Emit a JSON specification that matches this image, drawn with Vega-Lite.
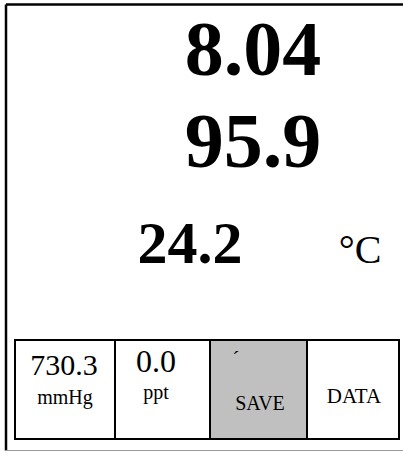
{
  "$schema": "https://vega.github.io/schema/vega-lite/v6.json",
  "width": 403,
  "height": 452,
  "padding": 0,
  "autosize": {"type": "none"},
  "background": "white",
  "config": {"view": {"stroke": null}},
  "datasets": {
    "frame": [
      {"x": 6, "x2": 410, "y": 4.5, "y2": 4.5, "c": "black", "w": 2.5},
      {"x": 6, "x2": 6, "y": 4.5, "y2": 450.5, "c": "black", "w": 2.5},
      {"x": 6, "x2": 410, "y": 450.5, "y2": 450.5, "c": "#999999", "w": 1.2}
    ],
    "buttons": [
      {"x": 15, "x2": 115, "y": 340, "y2": 439, "fill": "white"},
      {"x": 115, "x2": 210, "y": 340, "y2": 439, "fill": "white"},
      {"x": 210, "x2": 307, "y": 340, "y2": 439, "fill": "#c0c0c0"},
      {"x": 307, "x2": 399, "y": 340, "y2": 439, "fill": "white"}
    ],
    "labels": [
      {"t": "8.04", "x": 253, "y": 75, "s": 78, "b": "bold"},
      {"t": "95.9", "x": 253, "y": 167, "s": 78, "b": "bold"},
      {"t": "24.2", "x": 190, "y": 263, "s": 60, "b": "bold"},
      {"t": "°C", "x": 360, "y": 263, "s": 40, "b": "normal"},
      {"t": "730.3", "x": 64, "y": 375, "s": 30, "b": "normal"},
      {"t": "mmHg", "x": 65, "y": 404, "s": 20, "b": "normal"},
      {"t": "0.0", "x": 156, "y": 372, "s": 32, "b": "normal"},
      {"t": "ppt", "x": 156, "y": 399, "s": 20, "b": "normal"},
      {"t": "´", "x": 236, "y": 366, "s": 22, "b": "normal"},
      {"t": "SAVE", "x": 260, "y": 410, "s": 20, "b": "normal"},
      {"t": "DATA", "x": 354, "y": 403, "s": 21, "b": "normal"}
    ]
  },
  "layer": [
    {
      "data": {"name": "buttons"},
      "mark": {"type": "rect", "stroke": "black", "strokeWidth": 2},
      "encoding": {
        "x": {"field": "x", "type": "quantitative", "scale": {"domain": [0, 403], "range": [0, 403]}, "axis": null},
        "x2": {"field": "x2"},
        "y": {"field": "y", "type": "quantitative", "scale": {"domain": [0, 452], "range": [0, 452]}, "axis": null},
        "y2": {"field": "y2"},
        "fill": {"field": "fill", "type": "nominal", "scale": null}
      }
    },
    {
      "data": {"name": "frame"},
      "mark": {"type": "rule"},
      "encoding": {
        "x": {"field": "x", "type": "quantitative", "scale": {"domain": [0, 403], "range": [0, 403]}, "axis": null},
        "x2": {"field": "x2"},
        "y": {"field": "y", "type": "quantitative", "scale": {"domain": [0, 452], "range": [0, 452]}, "axis": null},
        "y2": {"field": "y2"},
        "color": {"field": "c", "type": "nominal", "scale": null},
        "strokeWidth": {"field": "w", "type": "quantitative", "scale": null}
      }
    },
    {
      "data": {"name": "labels"},
      "transform": [{"filter": "datum.b === 'bold'"}],
      "mark": {"type": "text", "font": "Liberation Serif", "fontWeight": "bold", "align": "center", "baseline": "alphabetic", "color": "black"},
      "encoding": {
        "x": {"field": "x", "type": "quantitative", "scale": {"domain": [0, 403], "range": [0, 403]}, "axis": null},
        "y": {"field": "y", "type": "quantitative", "scale": {"domain": [0, 452], "range": [0, 452]}, "axis": null},
        "text": {"field": "t"},
        "size": {"field": "s", "type": "quantitative", "scale": null}
      }
    },
    {
      "data": {"name": "labels"},
      "transform": [{"filter": "datum.b !== 'bold'"}],
      "mark": {"type": "text", "font": "Liberation Serif", "fontWeight": "normal", "align": "center", "baseline": "alphabetic", "color": "black"},
      "encoding": {
        "x": {"field": "x", "type": "quantitative", "scale": {"domain": [0, 403], "range": [0, 403]}, "axis": null},
        "y": {"field": "y", "type": "quantitative", "scale": {"domain": [0, 452], "range": [0, 452]}, "axis": null},
        "text": {"field": "t"},
        "size": {"field": "s", "type": "quantitative", "scale": null}
      }
    }
  ]
}
